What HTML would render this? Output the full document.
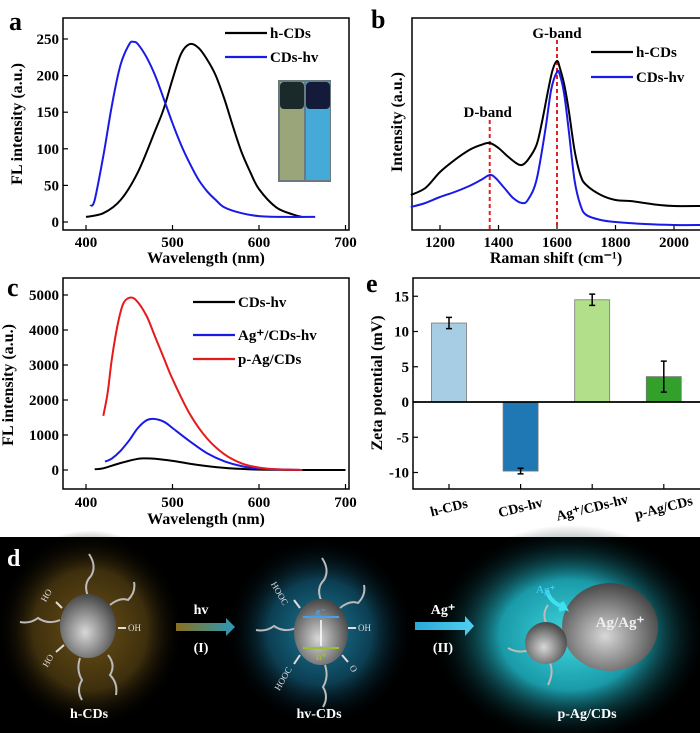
<!DOCTYPE html>
<html><head><meta charset="utf-8"><style>
html,body{margin:0;padding:0;background:#fff;}
svg{display:block;font-family:"Liberation Serif",serif;font-weight:bold;}
</style></head><body>
<svg id="fig" width="700" height="733" viewBox="0 0 700 733" xmlns="http://www.w3.org/2000/svg">
<defs>
<radialGradient id="sph" cx="45%" cy="60%" r="65%"><stop offset="0" stop-color="#d8d8d8"/><stop offset="0.5" stop-color="#8a8a8a"/><stop offset="1" stop-color="#3a3a3a"/></radialGradient>
<radialGradient id="gOr" cx="50%" cy="50%" r="50%"><stop offset="0" stop-color="#6a5016"/><stop offset="0.6" stop-color="#3e2f0d"/><stop offset="1" stop-color="#000" stop-opacity="0"/></radialGradient>
<radialGradient id="gTe" cx="50%" cy="50%" r="50%"><stop offset="0" stop-color="#1a7a98"/><stop offset="0.55" stop-color="#0c3e52"/><stop offset="1" stop-color="#000" stop-opacity="0"/></radialGradient>
<radialGradient id="gCy" cx="50%" cy="50%" r="50%"><stop offset="0" stop-color="#3fd8e0"/><stop offset="0.5" stop-color="#1a9aa8"/><stop offset="1" stop-color="#000" stop-opacity="0"/></radialGradient>
<linearGradient id="ar1" x1="0" x2="1"><stop offset="0" stop-color="#8a7020"/><stop offset="1" stop-color="#2a9ab8"/></linearGradient>
<linearGradient id="ar2" x1="0" x2="1"><stop offset="0" stop-color="#2aa8d8"/><stop offset="1" stop-color="#50d0f0"/></linearGradient>
</defs>
<g id="pa"></g>
<g id="pb"></g>
<g id="pc"></g>
<g id="pe"></g>
<g id="pd">
<rect x="0" y="537" width="700" height="196" fill="#000"/>
<ellipse cx="90" cy="630" rx="95" ry="100" fill="url(#gOr)"/>
<ellipse cx="320" cy="632" rx="95" ry="95" fill="url(#gTe)"/>
<ellipse cx="570" cy="635" rx="140" ry="110" fill="url(#gCy)"/>
<g stroke="#bbb" stroke-width="2" fill="none">
<path d="M88 596 q-5 -12 3 -20 q6 -10 -2 -22"/><path d="M110 605 q10 -8 18 -5 q8 -8 6 -18"/><path d="M60 620 q-12 5 -22 -2 q-8 6 -18 4"/><path d="M108 655 q8 10 2 20 q8 8 6 20"/><path d="M80 658 q-4 12 2 22 q-6 10 0 20"/>
<path d="M321 600 q-5 -12 3 -20 q6 -10 -2 -22"/><path d="M340 608 q10 -8 18 -5 q8 -8 6 -18"/><path d="M296 628 q-12 5 -22 -2 q-8 6 -18 4"/><path d="M325 665 q4 12 -2 22 q6 10 0 20"/>
<path d="M546 623 q-4 -10 2 -18"/><path d="M530 650 q-12 4 -22 -2"/><path d="M550 663 q4 10 -2 22"/>
</g>
<g stroke="#ddd" stroke-width="2"><line x1="62" y1="608" x2="56" y2="602"/><line x1="118" y1="628" x2="126" y2="628"/><line x1="64" y1="645" x2="56" y2="652"/><line x1="300" y1="608" x2="294" y2="600"/><line x1="348" y1="628" x2="356" y2="628"/><line x1="300" y1="655" x2="294" y2="664"/><line x1="342" y1="655" x2="348" y2="662"/></g>
<g fill="#ddd" font-size="9" font-weight="normal"><text x="42" y="600" transform="rotate(-60 46 598)">HO</text><text x="128" y="631">OH</text><text x="40" y="665" transform="rotate(-60 46 660)">HO</text><text x="270" y="595" transform="rotate(60 280 590)">HOOC</text><text x="358" y="631">OH</text><text x="270" y="685" transform="rotate(-60 280 680)">HOOC</text><text x="350" y="670" transform="rotate(60 352 668)">O</text><text x="570" y="647" font-size="7">OH</text></g>
<ellipse cx="88" cy="626" rx="28" ry="32" fill="url(#sph)"/>
<ellipse cx="321" cy="632" rx="27" ry="33" fill="url(#sph)"/>
<line x1="303" y1="617" x2="339" y2="617" stroke="#4aa0e8" stroke-width="2"/><line x1="303" y1="648" x2="339" y2="648" stroke="#9ac030" stroke-width="2"/><line x1="321" y1="646" x2="321" y2="620" stroke="#fff" stroke-width="1.5"/>
<text x="316" y="615" fill="#4aa0e8" font-size="10">e⁻</text><text x="316" y="660" fill="#9ac030" font-size="10">h⁺</text>
<ellipse cx="610" cy="627" rx="48" ry="44" fill="url(#sph)"/>
<ellipse cx="546" cy="643" rx="21" ry="21" fill="url(#sph)"/>
<path d="M547 590 q2 12 18 18 l-3 -6 M565 608 l-6 2" stroke="#40e0f0" stroke-width="4" fill="none"/>
<text x="536" y="593" fill="#40c8f0" font-size="11">Ag⁺</text>
<text x="620" y="627" fill="#eee" font-size="15" text-anchor="middle">Ag/Ag⁺</text>
<polygon points="176,623 226,623 226,618 235,627 226,636 226,631 176,631" fill="url(#ar1)"/>
<polygon points="415,622 465,622 465,616 474,626 465,636 465,630 415,630" fill="url(#ar2)"/>
<g fill="#fff" font-size="14" text-anchor="middle">
<text x="201" y="614">hv</text><text x="201" y="652">(I)</text>
<text x="443" y="614">Ag⁺</text><text x="443" y="652">(II)</text>
<text x="89" y="718">h-CDs</text>
<text x="319" y="718">hv-CDs</text>
<text x="587" y="718">p-Ag/CDs</text>
</g>
<text x="7" y="566" fill="#fff" font-size="24">d</text>
</g>
</svg>
<script>
const NS="http://www.w3.org/2000/svg";
// Panel a data
const aX=[400,420,440,460,480,490,500,510,520,530,540,550,560,570,580,590,600,620,640,650];
const aH=[7,12,30,68,125,155,195,230,243,238,222,200,168,130,95,68,45,20,10,7];
const aBX=[405,410,420,430,440,450,455,460,470,480,490,500,510,520,530,540,550,560,580,600,630,665];
const aB=[22,30,90,160,215,243,246,243,225,200,168,135,105,80,58,42,30,20,12,8,7,7];
const aXTicks=[400,500,600,700];
const aYTicks=[0,50,100,150,200,250];
// Panel b data (arbitrary units)
const bX1=[1100,1150,1200,1250,1300,1340,1370,1400,1430,1460,1480,1500,1530,1550,1570,1585,1600,1610,1625,1640,1660,1680,1700,1750,1800,1850,1900,1950,2000,2100];
const bH=[35,42,58,70,80,85,87,82,74,67,65,70,85,110,140,160,169,162,145,120,80,55,45,35,30,29,27,25,24,24];
const bX2=[1100,1150,1200,1250,1300,1340,1370,1390,1420,1450,1480,1500,1530,1560,1580,1600,1610,1625,1640,1660,1680,1700,1750,1800,1900,2000,2100];
const bB=[23,27,33,38,44,50,55,52,42,32,27,30,50,100,140,158,155,135,100,50,25,15,10,8,6,5,5];
const bXTicks=[1200,1400,1600,1800,2000];
const bBands=[1370,1600];
// Panel c data
const cX0=[410,420,440,460,470,480,500,520,540,560,580,600,650,700];
const c0=[20,50,200,320,330,320,260,180,110,60,30,10,0,0];
const cX1=[422,430,440,450,460,470,478,490,500,520,540,560,580,600,650];
const c1=[240,330,550,850,1200,1420,1460,1380,1200,820,480,250,110,40,0];
const cX2=[420,425,430,437,443,450,458,470,480,490,500,520,540,560,580,600,620,650];
const c2=[1550,2200,3200,4200,4750,4920,4850,4400,3800,3200,2600,1600,900,450,190,70,20,0];
const cXTicks=[400,500,600,700];
const cYTicks=[0,1000,2000,3000,4000,5000];
// Panel e data
const eCats=["h-CDs","CDs-hv","Ag⁺/CDs-hv","p-Ag/CDs"];
const eVals=[11.2,-9.8,14.5,3.6];
const eErr=[0.8,0.4,0.8,2.2];
const eYTicks=[-10,-5,0,5,10,15];
const eColors=["#a6cde3","#1f78b4","#b2df8a","#33a02c"];

function el(tag,attrs,parent,txt){const e=document.createElementNS(NS,tag);for(const k in attrs)e.setAttribute(k,attrs[k]);if(txt!==undefined)e.textContent=txt;parent.appendChild(e);return e;}
function line(xs,ys,sx,sy,color,g,name){
 const P=xs.map((x,i)=>[sx(x),sy(ys[i])]);
 let d='M'+P[0][0].toFixed(1)+' '+P[0][1].toFixed(1);
 for(let i=0;i<P.length-1;i++){const p0=P[Math.max(0,i-1)],p1=P[i],p2=P[i+1],p3=P[Math.min(P.length-1,i+2)];
  const c1=[p1[0]+(p2[0]-p0[0])/6,p1[1]+(p2[1]-p0[1])/6],c2=[p2[0]-(p3[0]-p1[0])/6,p2[1]-(p3[1]-p1[1])/6];
  d+=` C${c1[0].toFixed(1)} ${c1[1].toFixed(1)} ${c2[0].toFixed(1)} ${c2[1].toFixed(1)} ${p2[0].toFixed(1)} ${p2[1].toFixed(1)}`;}
 const p=el('path',{d:d,fill:'none',stroke:color,'stroke-width':2},g);return p;}
function box(g,x0,y0,x1,y1){el('rect',{x:x0,y:y0,width:x1-x0,height:y1-y0,fill:'none',stroke:'#000','stroke-width':1.5},g);}
function legend(g,x,y,color,label,name){const l=el('line',{x1:x,y1:y,x2:x+42,y2:y,stroke:color,'stroke-width':2.2},g);const t=el('text',{x:x+45,y:y+5,'font-size':15},g,label);}
function letter(g,x,y,s){const t=el('text',{x:x,y:y,'font-size':26},g,s);}

// ---- Panel a
(function(){const g=document.getElementById('pa');
const sx=v=>86+(v-400)*0.865, sy=v=>222-v*0.732;
box(g,63,18,349,230);
aXTicks.forEach(v=>{el('line',{x1:sx(v),y1:230,x2:sx(v),y2:225,stroke:'#000','stroke-width':1.2},g);const t=el('text',{x:sx(v),y:247,'font-size':15,'text-anchor':'middle'},g,v);});
aYTicks.forEach(v=>{el('line',{x1:63,y1:sy(v),x2:68,y2:sy(v),stroke:'#000','stroke-width':1.2},g);const t=el('text',{x:59,y:sy(v)+5,'font-size':15,'text-anchor':'end'},g,v);});
line(aX,aH,sx,sy,'#000',g,'a-series-h-cds');
line(aBX,aB,sx,sy,'#1a1ae6',g,'a-series-cds-hv');
legend(g,225,33,'#000','h-CDs','a-legend-h-cds');legend(g,225,57,'#1a1ae6','CDs-hv','a-legend-cds-hv');
const ins=el('g',{},g);
el('rect',{x:278,y:80,width:53,height:102,fill:'#6a7a80'},ins);
el('rect',{x:280,y:82,width:24,height:98,fill:'#9aa57a'},ins);el('rect',{x:306,y:82,width:24,height:98,fill:'#45aad8'},ins);
el('rect',{x:280,y:82,width:24,height:27,fill:'#1a2a2a',rx:4},ins);el('rect',{x:306,y:82,width:24,height:27,fill:'#141a3a',rx:4},ins);
const xt=el('text',{x:206,y:263,'font-size':16,'text-anchor':'middle'},g,'Wavelength (nm)');
const yt=el('text',{x:0,y:0,'font-size':16,'text-anchor':'middle',transform:'translate(22,124) rotate(-90)'},g,'FL intensity (a.u.)');
letter(g,9,30,'a');})();

// ---- Panel b
(function(){const g=document.getElementById('pb');
const sx=v=>440+(v-1200)*0.2925, sy=v=>230-v;
box(g,412,18,701,230);
bXTicks.forEach(v=>{el('line',{x1:sx(v),y1:230,x2:sx(v),y2:225,stroke:'#000','stroke-width':1.2},g);const t=el('text',{x:sx(v),y:247,'font-size':15,'text-anchor':'middle'},g,v);});
bBands.forEach(v=>{const l=el('line',{x1:sx(v),y1:(v<1500?120:40),x2:sx(v),y2:230,stroke:'#e62020','stroke-width':2,'stroke-dasharray':'4,3'},g);});
line(bX1,bH,sx,sy,'#000',g,'b-series-h-cds');
line(bX2,bB,sx,sy,'#1a1ae6',g,'b-series-cds-hv');
const t1=el('text',{x:sx(1600),y:38,'font-size':15,'text-anchor':'middle'},g,'G-band');
const t2=el('text',{x:sx(1370)-2,y:117,'font-size':15,'text-anchor':'middle'},g,'D-band');
legend(g,591,52,'#000','h-CDs','b-legend-h-cds');legend(g,591,77,'#1a1ae6','CDs-hv','b-legend-cds-hv');
const xt=el('text',{x:556,y:263,'font-size':16,'text-anchor':'middle'},g,'Raman shift (cm⁻¹)');
const yt=el('text',{x:0,y:0,'font-size':16,'text-anchor':'middle',transform:'translate(402,122) rotate(-90)'},g,'Intensity (a.u.)');
letter(g,371,28,'b');})();

// ---- Panel c
(function(){const g=document.getElementById('pc');
const sx=v=>86+(v-400)*0.865, sy=v=>470-v*0.035;
box(g,63,278,349,489);
cXTicks.forEach(v=>{el('line',{x1:sx(v),y1:489,x2:sx(v),y2:484,stroke:'#000','stroke-width':1.2},g);const t=el('text',{x:sx(v),y:507,'font-size':15,'text-anchor':'middle'},g,v);});
cYTicks.forEach(v=>{el('line',{x1:63,y1:sy(v),x2:68,y2:sy(v),stroke:'#000','stroke-width':1.2},g);const t=el('text',{x:59,y:sy(v)+5,'font-size':15,'text-anchor':'end'},g,v);});
line(cX0,c0,sx,sy,'#000',g,'c-series-cds-hv');
line(cX1,c1,sx,sy,'#1a1ae6',g,'c-series-ag-cds-hv');
line(cX2,c2,sx,sy,'#e61a1a',g,'c-series-p-ag-cds');
legend(g,193,302,'#000','CDs-hv','c-legend-cds-hv');legend(g,193,335,'#1a1ae6','Ag⁺/CDs-hv','c-legend-ag-cds-hv');legend(g,193,359,'#e61a1a','p-Ag/CDs','c-legend-p-ag-cds');
const xt=el('text',{x:206,y:524,'font-size':16,'text-anchor':'middle'},g,'Wavelength (nm)');
const yt=el('text',{x:0,y:0,'font-size':16,'text-anchor':'middle',transform:'translate(13,385) rotate(-90)'},g,'FL intensity (a.u.)');
letter(g,7,296,'c');})();

// ---- Panel e
(function(){const g=document.getElementById('pe');
const sy=v=>402-v*7.05, cx=i=>449+i*71.6, bw=35;
box(g,413,278,701,489);
eYTicks.forEach(v=>{el('line',{x1:413,y1:sy(v),x2:418,y2:sy(v),stroke:'#000','stroke-width':1.2},g);const t=el('text',{x:409,y:sy(v)+5,'font-size':15,'text-anchor':'end'},g,v);});
eVals.forEach((v,i)=>{const r=el('rect',{x:cx(i)-bw/2,y:Math.min(sy(v),sy(0)),width:bw,height:Math.abs(sy(v)-sy(0)),fill:eColors[i],stroke:'#777','stroke-width':0.8},g);
const e=el('path',{d:`M${cx(i)} ${sy(v-eErr[i])}V${sy(v+eErr[i])}M${cx(i)-3} ${sy(v-eErr[i])}h6M${cx(i)-3} ${sy(v+eErr[i])}h6`,stroke:'#000','stroke-width':1.5,fill:'none'},g);
el('line',{x1:cx(i),y1:489,x2:cx(i),y2:484,stroke:'#000','stroke-width':1.2},g);
const t=el('text',{x:cx(i),y:512,'font-size':14,'text-anchor':'middle',transform:`rotate(-14 ${cx(i)} 508)`},g,eCats[i]);});
el('line',{x1:413,y1:sy(0),x2:701,y2:sy(0),stroke:'#000','stroke-width':1.8},g);
const yt=el('text',{x:0,y:0,'font-size':16,'text-anchor':'middle',transform:'translate(382,383) rotate(-90)'},g,'Zeta potential (mV)');
letter(g,366,292,'e');})();
</script>
</body></html>
